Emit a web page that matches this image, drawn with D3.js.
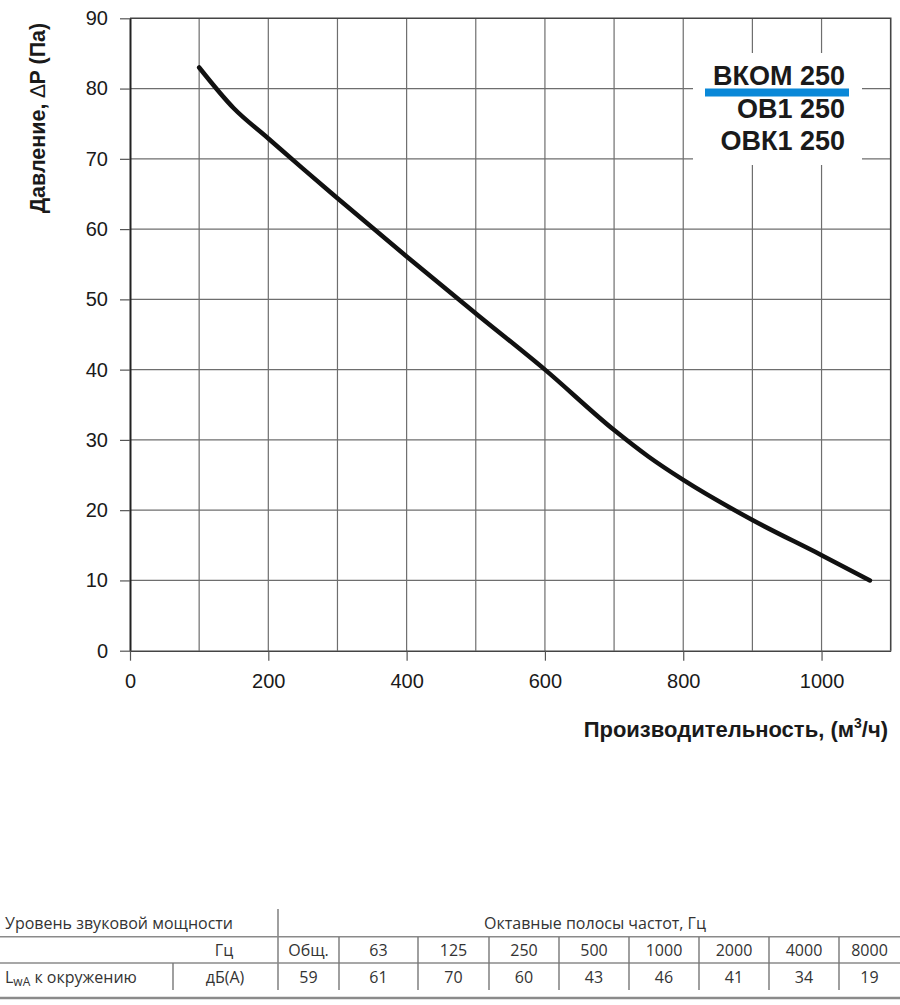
<!DOCTYPE html>
<html>
<head>
<meta charset="utf-8">
<script src="https://cdn.jsdelivr.net/npm/d3@7"></script>
<style>
  body { margin: 0; background: #fff; }
  svg { display: block; }
  .chart text { font-family: "Liberation Sans", Arial, sans-serif; fill: #1a1a1a; }
  .tbl text { font-family: "Open Sans", "Noto Sans", sans-serif; fill: #333; font-size: 16px; }
</style>
</head>
<body>
<div class="chart"></div>
<script>
var svgWidth = 900;
var svgHeight = 1005;

// Plot area
var plot = { left: 130, right: 890.7, top: 18.3, bottom: 650.7 };

// Curve: airflow (m3/h) vs pressure (Pa)
var flow = [100, 150, 200, 250, 300, 400, 500, 600, 700, 750, 800, 900, 1000, 1070];
var pressure = [83, 77.2, 72.9, 68.6, 64.4, 56.1, 48.0, 40.0, 31.4, 27.6, 24.3, 18.6, 13.6, 10];

// Axis ticks and grid
var xTicks = [0, 200, 400, 600, 800, 1000];
var yTicks = [0, 10, 20, 30, 40, 50, 60, 70, 80, 90];
var xGrid = [100, 200, 300, 400, 500, 600, 700, 800, 900, 1000];
var yGrid = [10, 20, 30, 40, 50, 60, 70, 80];

// Models in the legend
var models = ["ВКОМ 250", "ОВ1 250", "ОВК1 250"];

// Sound power table
var bands = ["Общ.", "63", "125", "250", "500", "1000", "2000", "4000", "8000"];
var soundLevels = [59, 61, 70, 60, 43, 46, 41, 34, 19];

var svg = d3.select(".chart")
  .append("svg")
  .attr("width", svgWidth)
  .attr("height", svgHeight);

var chartGroup = svg.append("g").attr("class", "chart");

var xScale = d3.scaleLinear().domain([0, 1100]).range([plot.left, plot.right]);
var yScale = d3.scaleLinear().domain([0, 90]).range([plot.bottom, plot.top]);

// grid lines
chartGroup.append("g")
  .selectAll("line")
  .data(xGrid)
  .enter()
  .append("line")
  .attr("x1", d => xScale(d))
  .attr("x2", d => xScale(d))
  .attr("y1", plot.top)
  .attr("y2", plot.bottom)
  .attr("stroke", "#6e6e6e")
  .attr("stroke-width", 1.2);

chartGroup.append("g")
  .selectAll("line")
  .data(yGrid)
  .enter()
  .append("line")
  .attr("x1", plot.left)
  .attr("x2", plot.right)
  .attr("y1", d => yScale(d))
  .attr("y2", d => yScale(d))
  .attr("stroke", "#6e6e6e")
  .attr("stroke-width", 1.2);

// frame (top and right)
chartGroup.append("path")
  .attr("d", `M${plot.left},${plot.top}H${plot.right}V${plot.bottom}`)
  .attr("fill", "none")
  .attr("stroke", "#444")
  .attr("stroke-width", 1.6);

// axes
var leftAxis = d3.axisLeft(yScale).tickValues(yTicks).tickSize(10).tickPadding(12).tickSizeOuter(0);
var bottomAxis = d3.axisBottom(xScale).tickValues(xTicks).tickFormat(d3.format("d"))
  .tickSize(10).tickPadding(13).tickSizeOuter(0);

var yAxisG = chartGroup.append("g")
  .attr("transform", `translate(${plot.left}, 0)`)
  .call(leftAxis);

var xAxisG = chartGroup.append("g")
  .attr("transform", `translate(0, ${plot.bottom})`)
  .call(bottomAxis);

chartGroup.selectAll(".tick line").attr("stroke", "#555").attr("stroke-width", 1.2);
yAxisG.select(".domain").attr("stroke", "#222").attr("stroke-width", 2);
xAxisG.select(".domain").attr("stroke", "#444").attr("stroke-width", 1.6);
yAxisG.attr("font-size", 20).attr("font-family", "Liberation Sans, Arial, sans-serif");
xAxisG.attr("font-size", 20).attr("font-family", "Liberation Sans, Arial, sans-serif");
chartGroup.selectAll(".tick text").attr("fill", "#1a1a1a");

// legend box over the grid
chartGroup.append("rect")
  .attr("x", 693)
  .attr("y", 53)
  .attr("width", 169)
  .attr("height", 112)
  .attr("fill", "#fff");

chartGroup.append("rect")
  .attr("x", 705)
  .attr("y", 88.5)
  .attr("width", 144)
  .attr("height", 8)
  .attr("fill", "#0a88d8");

chartGroup.append("g")
  .selectAll("text")
  .data(models)
  .enter()
  .append("text")
  .attr("x", 845)
  .attr("y", (d, i) => 85 + i * 32.5)
  .attr("text-anchor", "end")
  .attr("font-size", 27)
  .attr("font-weight", "bold")
  .text(d => d);

// performance curve
var line = d3.line()
  .x((d, i) => xScale(flow[i]))
  .y(d => yScale(d))
  .curve(d3.curveMonotoneX);

chartGroup.append("path")
  .datum(pressure)
  .attr("d", line)
  .attr("fill", "none")
  .attr("stroke", "#111")
  .attr("stroke-width", 4.5)
  .attr("stroke-linecap", "round")
  .attr("stroke-linejoin", "round");

// axis titles
var yTitle = chartGroup.append("text")
  .attr("transform", "translate(45, 118) rotate(-90)")
  .attr("text-anchor", "middle")
  .attr("font-size", 21.5)
  .attr("font-weight", "bold");
yTitle.append("tspan").text("Давление, ");
yTitle.append("tspan").attr("font-weight", "normal").text("∆");
yTitle.append("tspan").text("P (Па)");

var xTitle = chartGroup.append("text")
  .attr("x", 888)
  .attr("y", 737)
  .attr("text-anchor", "end")
  .attr("font-size", 22)
  .attr("font-weight", "bold");
xTitle.append("tspan").text("Производительность, (м");
xTitle.append("tspan").attr("font-size", 14).attr("dy", -9).text("3");
xTitle.append("tspan").attr("dy", 9).text("/ч)");

// sound power table
var tbl = svg.append("g").attr("class", "tbl");
var colEdges = [278, 339, 418, 489, 559, 629, 699, 769, 839, 900];

tbl.append("line")
  .attr("x1", 278).attr("x2", 278).attr("y1", 909).attr("y2", 990)
  .attr("stroke", "#777").attr("stroke-width", 1.4);

[936.7, 963].forEach(function(yy) {
  tbl.append("line")
    .attr("x1", 0).attr("x2", 900).attr("y1", yy).attr("y2", yy)
    .attr("stroke", "#8a8a8a").attr("stroke-width", 1.4);
});

tbl.append("line")
  .attr("x1", 0).attr("x2", 900).attr("y1", 998).attr("y2", 998)
  .attr("stroke", "#8a8a8a").attr("stroke-width", 2.5);

tbl.selectAll(".col")
  .data(colEdges.slice(1, -1))
  .enter()
  .append("line")
  .attr("x1", d => d).attr("x2", d => d)
  .attr("y1", 937).attr("y2", 990)
  .attr("stroke", "#777").attr("stroke-width", 1.4);

tbl.append("line")
  .attr("x1", 173).attr("x2", 173).attr("y1", 963).attr("y2", 990)
  .attr("stroke", "#777").attr("stroke-width", 1.4);

tbl.append("text").attr("x", 5).attr("y", 929).text("Уровень звуковой мощности");
tbl.append("text").attr("x", 595).attr("y", 929).attr("text-anchor", "middle").text("Октавные полосы частот, Гц");
tbl.append("text").attr("x", 224).attr("y", 956).attr("text-anchor", "middle").text("Гц");
tbl.append("text").attr("x", 225).attr("y", 983).attr("text-anchor", "middle").text("дБ(А)");

var lwa = tbl.append("text").attr("x", 5).attr("y", 983);
lwa.append("tspan").text("L");
lwa.append("tspan").attr("font-size", 12).attr("dy", 3).text("wA");
lwa.append("tspan").attr("dy", -3).text(" к окружению");

tbl.selectAll(".band")
  .data(bands)
  .enter()
  .append("text")
  .attr("x", (d, i) => (colEdges[i] + colEdges[i + 1]) / 2)
  .attr("y", 956)
  .attr("text-anchor", "middle")
  .text(d => d);

tbl.selectAll(".lvl")
  .data(soundLevels)
  .enter()
  .append("text")
  .attr("x", (d, i) => (colEdges[i] + colEdges[i + 1]) / 2)
  .attr("y", 983)
  .attr("text-anchor", "middle")
  .text(d => d);
</script>
</body>
</html>
